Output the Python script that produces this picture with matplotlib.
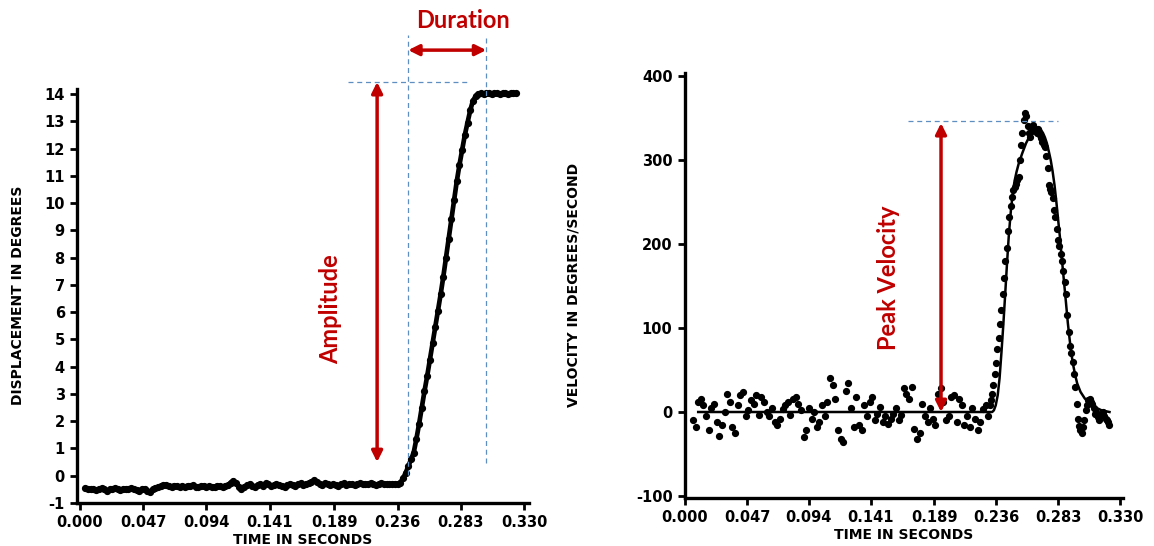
import numpy as np
import matplotlib
matplotlib.use("Agg")
import matplotlib.pyplot as plt

plt.rcParams['font.family'] = ['DejaVu Sans']
plt.rcParams['font.weight'] = 'bold'
plt.rcParams['axes.labelweight'] = 'bold'
plt.rcParams['axes.unicode_minus'] = False

RED = '#C00000'
BLUE = '#5F8FC0'

time_ticks = [0.000, 0.047, 0.094, 0.141, 0.189, 0.236, 0.283, 0.330]
time_labels = ['0.000', '0.047', '0.094', '0.141', '0.189', '0.236', '0.283', '0.330']
disp_ticks = list(range(-1, 15))
vel_ticks = [-100, 0, 100, 200, 300, 400]

# displacement trace, one sample every 2 ms starting at 4 ms
disp_start, disp_step = 0.004, 0.002
displacement = [
    -0.45, -0.48, -0.5, -0.47, -0.52, -0.5, -0.46, -0.5, -0.55, -0.5, -0.48, -0.45, -0.5, -0.53, -0.49,
    -0.47, -0.5, -0.46, -0.5, -0.52, -0.56, -0.5, -0.47, -0.55, -0.6, -0.5, -0.45, -0.42, -0.38,
    -0.35, -0.33, -0.37, -0.4, -0.36, -0.38, -0.42, -0.37, -0.4, -0.36, -0.39, -0.35, -0.4, -0.42, -0.38,
    -0.36, -0.4, -0.38, -0.42, -0.4, -0.37, -0.39, -0.41, -0.38, -0.35,
    -0.25, -0.18, -0.28, -0.4, -0.47, -0.42, -0.35, -0.3, -0.38, -0.42, -0.33, -0.3, -0.36, -0.28, -0.32,
    -0.38, -0.35, -0.3, -0.33, -0.38, -0.4, -0.34, -0.3, -0.33, -0.36,
    -0.3, -0.28, -0.33, -0.3, -0.27, -0.22, -0.16, -0.22, -0.3, -0.33, -0.28, -0.32, -0.35, -0.3, -0.33,
    -0.36, -0.3, -0.28, -0.34, -0.3, -0.32, -0.35, -0.3, -0.28, -0.3,
    -0.32, -0.3, -0.27, -0.3, -0.33, -0.3, -0.28, -0.31, -0.3, -0.32, -0.3, -0.29, -0.3, -0.25, -0.1,
    0.1, 0.35, 0.6, 0.85, 1.35, 1.9, 2.5, 3.1, 3.65, 4.25, 4.85, 5.45, 6.05, 6.65, 7.3, 8.0, 8.7, 9.4,
    10.1, 10.8, 11.4, 11.95, 12.5, 12.95, 13.4, 13.75, 13.92, 14.0,
    14.02, 14.0, 14.03, 14.02, 14.0, 14.03, 14.02, 14.0, 14.02, 14.03, 14.01, 14.02, 14.03, 14.02,
]

# velocity samples: 2 ms apart before the saccade, 1 ms apart during it
vel_base_start, vel_base_step = 0.006, 0.002
velocity_base = [
    -10, -18, 12, 15, 8,
    -5, -22, 5, 10, -12, -28, -15, 0,
    22, 12, -18, -25, 8, 20, 24, -5,
    2, 14, 10, 20, -3, 18, 12, 0, -5, 5,
    -12, -15, -8, 4, 8, 12, -3, 15, 18, 10, 2,
    -30, -22, 5, -8, 0, -18, -12, 8, -5, 12,
    40, 32, 15, -22, -32, -36, 25, 35, 5, -18,
    18, -15, -22, 8, -5, 12, 18, -10, -2, 6,
    -12, -5, -14, -8, -2, 5, -10, -4, 28,
    22, 15, 30, -20, -32, -25, 10, -5, -12, 5,
    -8, -15, 22, 28, 12, -10, -5, 18, 20, -12,
    15, 8, -15, -5, -18, 5, -8, -22, -12, 3, 8, -5,
]
vel_burst_start, vel_burst_step = 0.231, 0.001
velocity_burst = [
    8, 14, 22, 32, 45, 58, 75, 88, 105, 122, 140, 160, 180, 195, 215, 232, 245, 256, 264, 268,
    272, 276, 280, 300, 318, 332, 348, 356,
    352, 340, 332, 328, 335, 342, 338, 336, 332, 337, 330, 326, 322, 318, 315, 305, 290, 270,
    265, 262, 255, 240, 232, 218, 205, 198, 188, 180, 168, 155, 140, 115, 95, 78, 70, 60, 45,
    30, 10, -8, -17, -22, -25, -18, -10, 2, 8, 14, 15, 12, 10, 5, -2, 0, -6, -10, -4, -2, 0,
    -5, -8, -10, -12, -15,
]

# fitted velocity curve
fit_t = [0.010, 0.233, 0.2343, 0.2357, 0.2372, 0.2386, 0.240, 0.2415, 0.2429, 0.2443, 0.2457, 0.2472,
         0.2486, 0.250, 0.2515, 0.253, 0.2558, 0.2587, 0.2616, 0.2645, 0.2673, 0.270, 0.2716, 0.273,
         0.2745, 0.276, 0.2774, 0.2788, 0.2803, 0.2817, 0.2831, 0.2846, 0.286, 0.2875, 0.289, 0.2904,
         0.2918, 0.2932, 0.2947, 0.2961, 0.2975, 0.300, 0.3033, 0.3076, 0.312, 0.316, 0.322]
fit_v = [0, 0, 2, 8, 20, 40, 70, 105, 141, 178, 212, 240,
         260, 275, 286, 295, 308, 320, 329, 335, 338, 336, 332, 327,
         320, 310, 300, 287, 270, 250, 228, 205, 180, 155, 130, 106,
         86, 68, 54, 43, 34, 24, 16, 10, 5, 2, 0]

disp_t = disp_start + disp_step * np.arange(len(displacement))
vel_t = np.concatenate([vel_base_start + vel_base_step * np.arange(len(velocity_base)),
                        vel_burst_start + vel_burst_step * np.arange(len(velocity_burst))])
velocity = np.concatenate([velocity_base, velocity_burst])

fig = plt.figure(figsize=(11.54, 5.46), dpi=100)
ax1 = fig.add_axes([0.0670, 0.0788, 0.3912, 0.759])
ax2 = fig.add_axes([0.5936, 0.0885, 0.3796, 0.7784])


def style_axes(ax):
    for side in ['top', 'right']:
        ax.spines[side].set_visible(False)
    for side in ['left', 'bottom']:
        ax.spines[side].set_linewidth(2.4)
    ax.tick_params(direction='out', length=5, width=2, labelsize=10.5, pad=4)
    ax.set_xticks(time_ticks)
    ax.set_xticklabels(time_labels)
    ax.set_xlabel('TIME IN SECONDS', fontsize=10, labelpad=2)


# left: displacement
ax1.plot(disp_t, displacement, color='black', lw=3.4, solid_capstyle='round')
ax1.plot(disp_t, displacement, 'o', color='black', ms=4.2)
ax1.set_xlim(-0.002, 0.3335)
ax1.set_ylim(-1, 14.2)
ax1.set_yticks(disp_ticks)
ax1.set_ylabel('DISPLACEMENT IN DEGREES', fontsize=10, labelpad=14)
style_axes(ax1)

dash = dict(color=BLUE, lw=0.9, linestyle=(0, (4, 3)), clip_on=False)
ax1.plot([0.2439, 0.2439], [0.03, 16.16], **dash)
ax1.plot([0.3019, 0.3019], [0.47, 16.16], **dash)
ax1.plot([0.1993, 0.29], [14.44, 14.44], **dash)

arrow = dict(arrowstyle='<|-|>', color=RED, lw=2.5, mutation_scale=16, shrinkA=0, shrinkB=0)
ax1.annotate('', xy=(0.2208, 14.44), xytext=(0.2208, 0.5), arrowprops=arrow, annotation_clip=False)
ax1.annotate('', xy=(0.2439, 15.61), xytext=(0.3019, 15.61), arrowprops=arrow, annotation_clip=False)
ax1.text(0.1866, 6.1, 'Amplitude', rotation=90, color=RED, fontsize=17, fontweight='bold',
         family=['Lato', 'DejaVu Sans'], ha='center', va='center')
ax1.text(0.2848, 16.7, 'Duration', color=RED, fontsize=17, fontweight='bold',
         family=['Lato', 'DejaVu Sans'], ha='center', va='center', clip_on=False)

# right: velocity
ax2.plot(fit_t, fit_v, color='black', lw=1.8)
ax2.plot(vel_t, velocity, 'o', color='black', ms=4.2)
ax2.set_xlim(0, 0.3323)
ax2.set_ylim(-102, 404)
ax2.set_yticks(vel_ticks)
ax2.set_ylabel('VELOCITY IN DEGREES/SECOND', fontsize=10, labelpad=40)
style_axes(ax2)

ax2.plot([0.1692, 0.283], [346, 346], **dash)
ax2.annotate('', xy=(0.1942, 344), xytext=(0.1942, 0), arrowprops=arrow)
ax2.text(0.154, 160, 'Peak Velocity', rotation=90, color=RED, fontsize=17, fontweight='bold',
         family=['Lato', 'DejaVu Sans'], ha='center', va='center')

fig.savefig('out.png', dpi=100, facecolor='white')
